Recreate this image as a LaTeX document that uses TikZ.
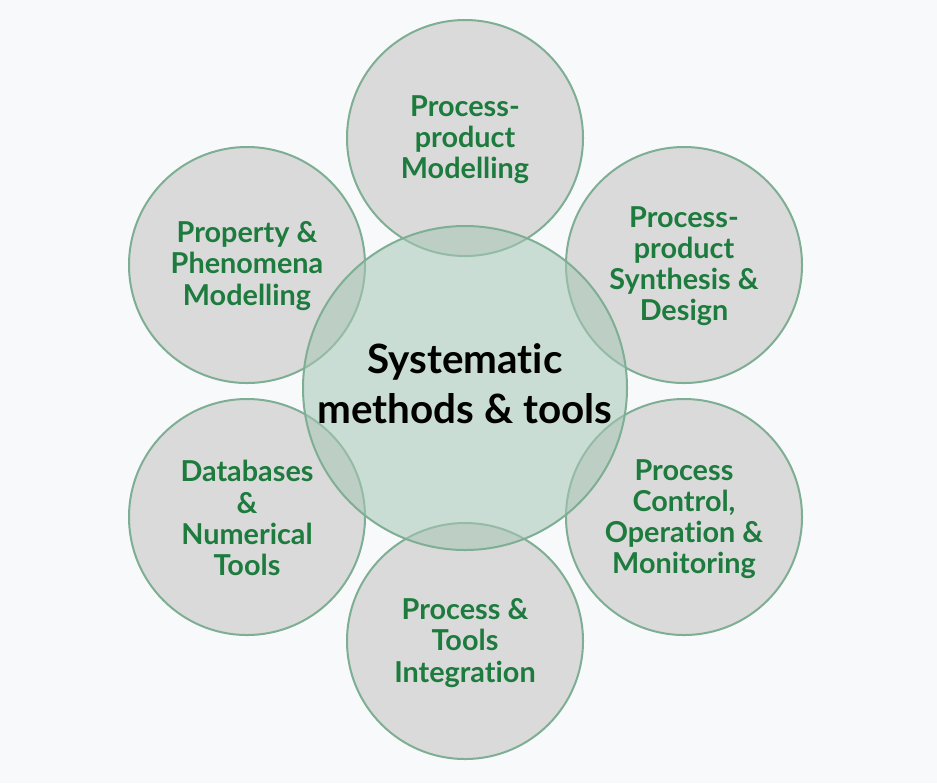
\documentclass[tikz,border=0pt]{standalone}
\usepackage{fontspec}
\setmainfont{Lato}[Ligatures=NoCommon]
\definecolor{bg}{HTML}{F8F9FB}
\definecolor{circfill}{HTML}{DADADA}
\definecolor{circdraw}{HTML}{7EAE94}
\definecolor{txtgreen}{HTML}{1E7B3E}
\definecolor{centfill}{HTML}{A6C6B4}
\begin{document}
\begin{tikzpicture}[x=0.75pt,y=-0.75pt,
  outer/.style={circle,fill=circfill,draw=circdraw,line width=1.5pt,minimum size=177pt,inner sep=0pt},
  center/.style={circle,fill=centfill,fill opacity=0.55,draw=circdraw,line width=1.5pt,minimum size=243pt,inner sep=0pt},
  otext/.style={text=txtgreen,font=\fontsize{21.6}{23.3}\selectfont\bfseries,align=center},
  ctext/.style={text=black,font=\fontsize{30.3}{37.5}\selectfont\bfseries,align=center}]
\fill[bg] (0,0) rectangle (937,783);
\useasboundingbox (0,0) rectangle (937,783);
\node[outer] (top) at (465,138) {};
\node[outer] (ul) at (247,265) {};
\node[outer] (ur) at (684,265) {};
\node[outer] (ll) at (247,517) {};
\node[outer] (lr) at (684,517) {};
\node[outer] (bot) at (465,641) {};
\node[center] (mid) at (465,388) {};
\node[otext] (ttop) at (465,140) {Process-\\product\\Modelling};
\node[otext] (tul) at (247,266) {Property \&\\Phenomena\\Modelling};
\node[otext] (tur) at (684,266) {Process-\\product\\Synthesis \&\\Design};
\node[otext] (tll) at (247,518) {Databases\\\&\\Numerical\\Tools};
\node[otext] (tlr) at (684,519) {Process\\Control,\\Operation \&\\Monitoring};
\node[otext] (tbot) at (465,643) {Process \&\\Tools\\Integration};
\node[ctext] (tmid) at (465,384) {Systematic\\methods \& tools};
\end{tikzpicture}
\end{document}
